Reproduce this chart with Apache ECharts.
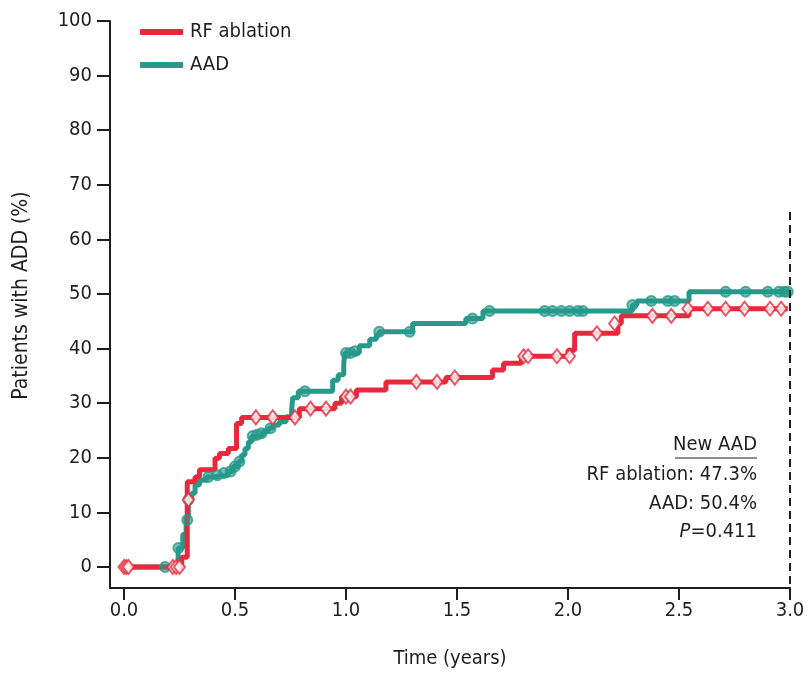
<!DOCTYPE html>
<html>
<head>
<meta charset="utf-8">
<script src="https://cdn.jsdelivr.net/npm/echarts@6/dist/echarts.min.js"></script>
<style>
  html, body { margin: 0; padding: 0; background: #fff; }
  #chart { width: 810px; height: 675px; }
</style>
</head>
<body>
<div id="chart"></div>
<script>
// step curves: time (years) where the value changes, and the new value (%)
var rfTime = [0, 0.26, 0.285, 0.32, 0.34, 0.41, 0.43, 0.47, 0.507, 0.53, 0.79, 0.95, 0.98, 1.047, 1.18, 1.45, 1.66, 1.71, 1.79, 2.0, 2.03, 2.225, 2.24, 2.545, 2.99];
var rfPct  = [0, 1.8, 15.6, 16.5, 17.8, 19.9, 20.8, 21.7, 26.3, 27.4, 29.0, 30.0, 31.2, 32.4, 33.9, 34.7, 36.1, 37.3, 38.6, 39.7, 42.8, 44.6, 46.0, 47.3, 47.3];

var aadTime = [0, 0.244, 0.265, 0.28, 0.29, 0.305, 0.32, 0.34, 0.372, 0.40, 0.47, 0.49, 0.515, 0.53, 0.545, 0.56, 0.575, 0.59, 0.627, 0.65, 0.67, 0.70, 0.73, 0.755, 0.76, 0.785, 0.94, 0.965, 0.99, 0.995, 1.06, 1.107, 1.137, 1.15, 1.30, 1.54, 1.617, 2.29, 2.31, 2.545, 3.0];
var aadPct  = [0, 3.5, 6.0, 9.0, 12.3, 13.5, 15.0, 15.9, 16.5, 16.8, 17.5, 18.4, 19.3, 20.5, 21.7, 22.9, 23.9, 24.2, 24.8, 25.4, 26.0, 26.6, 27.5, 28.8, 31.0, 32.2, 34.2, 35.2, 37.3, 39.2, 40.5, 41.7, 42.5, 43.1, 44.6, 45.5, 46.9, 48.0, 48.7, 50.4, 50.4];

// censored observations
var rfCensorTime = [0, 0.01, 0.02, 0.22, 0.235, 0.25, 0.29, 0.594, 0.67, 0.77, 0.84, 0.91, 1.0, 1.02, 1.317, 1.41, 1.49, 1.80, 1.82, 1.95, 2.007, 2.13, 2.21, 2.38, 2.465, 2.54, 2.63, 2.71, 2.795, 2.91, 2.96];
var rfCensorPct  = [0, 0, 0, 0, 0, 0, 12.3, 27.4, 27.4, 27.4, 29.0, 29.0, 31.2, 31.2, 33.9, 33.9, 34.7, 38.6, 38.6, 38.6, 38.6, 42.8, 44.6, 46.0, 46.0, 47.3, 47.3, 47.3, 47.3, 47.3, 47.3];

var aadCensorTime = [0.185, 0.245, 0.285, 0.29, 0.38, 0.42, 0.45, 0.48, 0.50, 0.52, 0.58, 0.60, 0.62, 0.66, 0.815, 1.0, 1.02, 1.04, 1.15, 1.287, 1.57, 1.647, 1.895, 1.93, 1.97, 2.007, 2.045, 2.067, 2.29, 2.375, 2.45, 2.48, 2.71, 2.80, 2.90, 2.95, 2.975, 2.99];
var aadCensorPct  = [0, 3.5, 8.6, 12.3, 16.5, 16.8, 17.2, 17.5, 18.4, 19.3, 24.0, 24.2, 24.5, 25.4, 32.2, 39.2, 39.2, 39.5, 43.1, 43.1, 45.5, 46.9, 46.9, 46.9, 46.9, 46.9, 46.9, 46.9, 48.0, 48.7, 48.7, 48.7, 50.4, 50.4, 50.4, 50.4, 50.4, 50.4];

var xTicks = [0, 0.5, 1.0, 1.5, 2.0, 2.5, 3.0];
var yTicks = [0, 10, 20, 30, 40, 50, 60, 70, 80, 90, 100];

var RED = '#e8283c';
var TEAL = '#27998a';
var INK = '#1e1e1e';
var FONT = '"Liberation Sans Narrow", "DejaVu Sans Condensed", "Liberation Sans", sans-serif';

function pairs(xs, ys) {
    return xs.map(function (x, i) { return [x, ys[i]]; });
}

var myChart = echarts.init(document.getElementById('chart'));
var option = {
    animation: false,
    textStyle: { fontFamily: FONT, color: INK },
    grid: { left: 110, right: 20, top: 21, bottom: 87 },
    legend: {
        orient: 'vertical',
        left: 140,
        top: 22,
        padding: 0,
        itemWidth: 43,
        itemHeight: 6,
        itemGap: 13,
        textStyle: { fontFamily: FONT, fontSize: 20, color: INK, padding: [0, 0, 0, 2] },
        data: [
            { name: 'RF ablation', icon: 'rect' },
            { name: 'AAD', icon: 'rect' }
        ]
    },
    xAxis: {
        type: 'value',
        min: -0.063,
        max: 3.0,
        name: 'Time (years)',
        nameLocation: 'middle',
        nameGap: 61,
        nameTextStyle: { fontFamily: FONT, fontSize: 20, color: INK },
        axisLine: { onZero: false, lineStyle: { color: INK, width: 2 } },
        axisTick: { customValues: xTicks, length: 12, lineStyle: { color: INK, width: 2 } },
        axisLabel: {
            customValues: xTicks,
            fontSize: 20,
            color: INK,
            margin: 13,
            formatter: function (v) { return v.toFixed(1); }
        },
        splitLine: { show: false }
    },
    yAxis: {
        type: 'value',
        min: -3.846,
        max: 100,
        name: 'Patients with ADD (%)',
        nameLocation: 'middle',
        nameRotate: 90,
        nameGap: 78,
        nameTextStyle: { fontFamily: FONT, fontSize: 21, color: INK, padding: [0, 0, 0, 18] },
        axisLine: { show: true, onZero: false, lineStyle: { color: INK, width: 2 } },
        axisTick: { show: true, customValues: yTicks, length: 13, lineStyle: { color: INK, width: 2 } },
        axisLabel: { customValues: yTicks, fontSize: 20, color: INK, margin: 18 },
        splitLine: { show: false }
    },
    graphic: [
        {
            type: 'text', right: 53, top: 435,
            style: { text: 'New AAD', font: '20px ' + FONT, fill: INK, textAlign: 'right' }
        },
        {
            type: 'line',
            shape: { x1: 675, y1: 458, x2: 757, y2: 458 },
            style: { stroke: INK, lineWidth: 1.2 }
        },
        {
            type: 'text', right: 53, top: 465,
            style: { text: 'RF ablation: 47.3%', font: '20px ' + FONT, fill: INK, textAlign: 'right' }
        },
        {
            type: 'text', right: 53, top: 494,
            style: { text: 'AAD: 50.4%', font: '20px ' + FONT, fill: INK, textAlign: 'right' }
        },
        {
            type: 'text', right: 53, top: 522,
            style: {
                text: '{i|P}=0.411',
                font: '20px ' + FONT,
                fill: INK,
                rich: { i: { fontStyle: 'italic', fontFamily: FONT, fontSize: 20, fill: INK } }
            }
        }
    ],
    series: [
        {
            name: 'AAD',
            type: 'line',
            step: 'end',
            showSymbol: false,
            color: TEAL,
            lineStyle: { color: TEAL, width: 5 },
            data: pairs(aadTime, aadPct),
            z: 2
        },
        {
            name: 'RF ablation',
            type: 'line',
            step: 'end',
            showSymbol: false,
            color: RED,
            lineStyle: { color: RED, width: 5 },
            data: pairs(rfTime, rfPct),
            z: 3,
            markLine: {
                silent: true,
                symbol: ['none', 'none'],
                label: { show: false },
                lineStyle: { color: INK, width: 2, type: [8, 5] },
                data: [[{ coord: [3.0, 65] }, { coord: [3.0, -3.846] }]]
            }
        },
        {
            name: 'AAD censored',
            type: 'scatter',
            symbol: 'circle',
            symbolSize: 10,
            itemStyle: { color: 'rgba(39,153,138,0.75)', borderColor: TEAL, borderWidth: 2 },
            data: pairs(aadCensorTime, aadCensorPct),
            z: 4
        },
        {
            name: 'RF censored',
            type: 'scatter',
            symbol: 'diamond',
            symbolSize: [11, 14],
            itemStyle: { color: '#fff', borderColor: RED, borderWidth: 2 },
            data: pairs(rfCensorTime, rfCensorPct),
            z: 5
        }
    ]
};
myChart.setOption(option);
window.addEventListener('resize', function () { myChart.resize(); });
</script>
</body>
</html>
